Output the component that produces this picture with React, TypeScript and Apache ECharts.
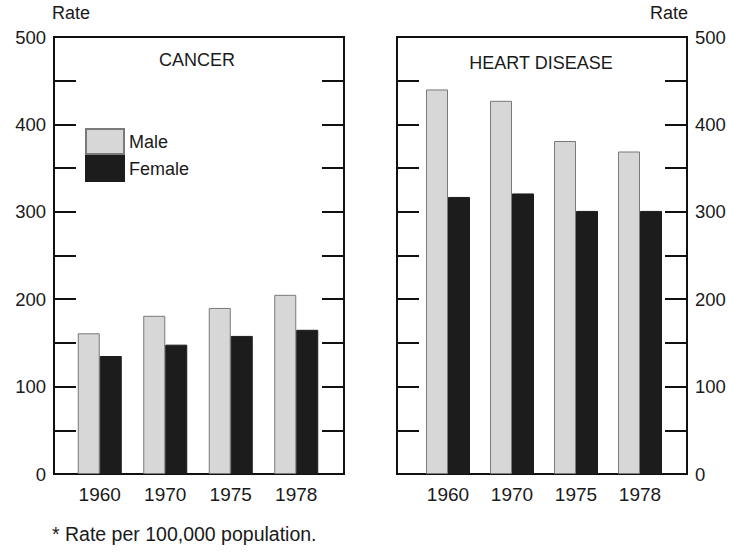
import React, { useEffect, useRef } from "react";
import * as echarts from "echarts";

const years = ["1960", "1970", "1975", "1978"];
const cancerMale = [161, 181, 190, 205];
const cancerFemale = [135, 148, 158, 165];
const heartMale = [440, 427, 381, 369];
const heartFemale = [317, 321, 301, 301];
const yTicks = { min: 0, max: 500, step: 50 };

const FONT = "Liberation Sans, Arial, sans-serif";
const TXT = "#1a1a1a";
const MALE = "#d7d7d7";
const FEMALE = "#1c1c1c";

export default function App() {
  const ref = useRef<HTMLDivElement>(null);
  useEffect(() => {
    if (!ref.current) return;
    const chart = echarts.init(ref.current, undefined, { renderer: "svg" });
    const frameY = (pos: "left" | "right", grid: number, labels: boolean) => ({
      type: "value",
      gridIndex: grid,
      position: pos,
      min: yTicks.min,
      max: yTicks.max,
      interval: yTicks.step,
      axisLine: { show: false },
      axisTick: { show: true, inside: true, length: 22, lineStyle: { color: "#111", width: 2 } },
      splitLine: { show: false },
      axisLabel: {
        show: labels,
        margin: 8,
        fontSize: 18.5,
        color: TXT,
        fontFamily: FONT,
        formatter: (v: number) => (v % 100 === 0 ? String(v) : ""),
      },
    });
    const barY = (grid: number) => ({
      type: "value",
      gridIndex: grid,
      min: yTicks.min,
      max: yTicks.max,
      show: false,
    });
    const catX = (grid: number) => ({
      type: "category",
      gridIndex: grid,
      data: years,
      axisLine: { show: false },
      axisTick: { show: false },
      axisLabel: { margin: 11, fontSize: 19, color: TXT, fontFamily: FONT },
    });
    const maleStyle = { color: MALE, borderColor: "#7a7a7a", borderWidth: 1 };
    const femaleStyle = { color: FEMALE, borderColor: FEMALE, borderWidth: 1 };
    const option = {
      animation: false,
      backgroundColor: "#fff",
      grid: [
        { left: 54, top: 37, width: 290, height: 437, show: true, borderColor: "#111", borderWidth: 2, backgroundColor: "transparent" },
        { left: 67, top: 37, width: 262, height: 437 },
        { left: 397, top: 37, width: 290, height: 437, show: true, borderColor: "#111", borderWidth: 2, backgroundColor: "transparent" },
        { left: 416, top: 37, width: 256, height: 437 },
      ],
      xAxis: [
        { type: "value", gridIndex: 0, min: 0, max: 1, show: false },
        catX(1),
        { type: "value", gridIndex: 2, min: 0, max: 1, show: false },
        catX(3),
      ],
      yAxis: [
        frameY("left", 0, true),
        frameY("right", 0, false),
        barY(1),
        frameY("left", 2, false),
        frameY("right", 2, true),
        barY(3),
      ],
      legend: {
        data: ["Male", "Female"],
        orient: "vertical",
        left: 85,
        top: 128,
        itemWidth: 38,
        itemHeight: 25,
        itemGap: 0,
        icon: "rect",
        padding: 0,
        textStyle: { fontSize: 18, color: TXT, fontFamily: FONT },
        selectedMode: false,
      },
      series: [
        { name: "Male", type: "bar", xAxisIndex: 1, yAxisIndex: 2, data: cancerMale, barWidth: 22, barGap: "0%", itemStyle: maleStyle },
        { name: "Female", type: "bar", xAxisIndex: 1, yAxisIndex: 2, data: cancerFemale, barWidth: 22, barGap: "0%", itemStyle: femaleStyle },
        { name: "Male", type: "bar", xAxisIndex: 3, yAxisIndex: 5, data: heartMale, barWidth: 22, barGap: "0%", itemStyle: maleStyle },
        { name: "Female", type: "bar", xAxisIndex: 3, yAxisIndex: 5, data: heartFemale, barWidth: 22, barGap: "0%", itemStyle: femaleStyle },
      ],
      graphic: [
        { type: "text", left: 52, top: 4, style: { text: "Rate", fontSize: 18, fill: TXT, fontFamily: FONT } },
        { type: "text", right: 46, top: 4, style: { text: "Rate", fontSize: 18, fill: TXT, fontFamily: FONT } },
        { type: "text", x: 197, y: 60, style: { text: "CANCER", fontSize: 18, fill: TXT, fontFamily: FONT, align: "center", verticalAlign: "middle" } },
        { type: "text", x: 541, y: 63, style: { text: "HEART DISEASE", fontSize: 18, fill: TXT, fontFamily: FONT, align: "center", verticalAlign: "middle" } },
        { type: "text", x: 52, y: 534, style: { text: "* Rate per 100,000 population.", fontSize: 19.5, fill: TXT, fontFamily: FONT, verticalAlign: "middle" } },
      ],
    };
    chart.setOption(option as any);
    return () => chart.dispose();
  }, []);
  return <div ref={ref} style={{ width: 734, height: 553, position: "absolute", left: 0, top: 0 }} />;
}
